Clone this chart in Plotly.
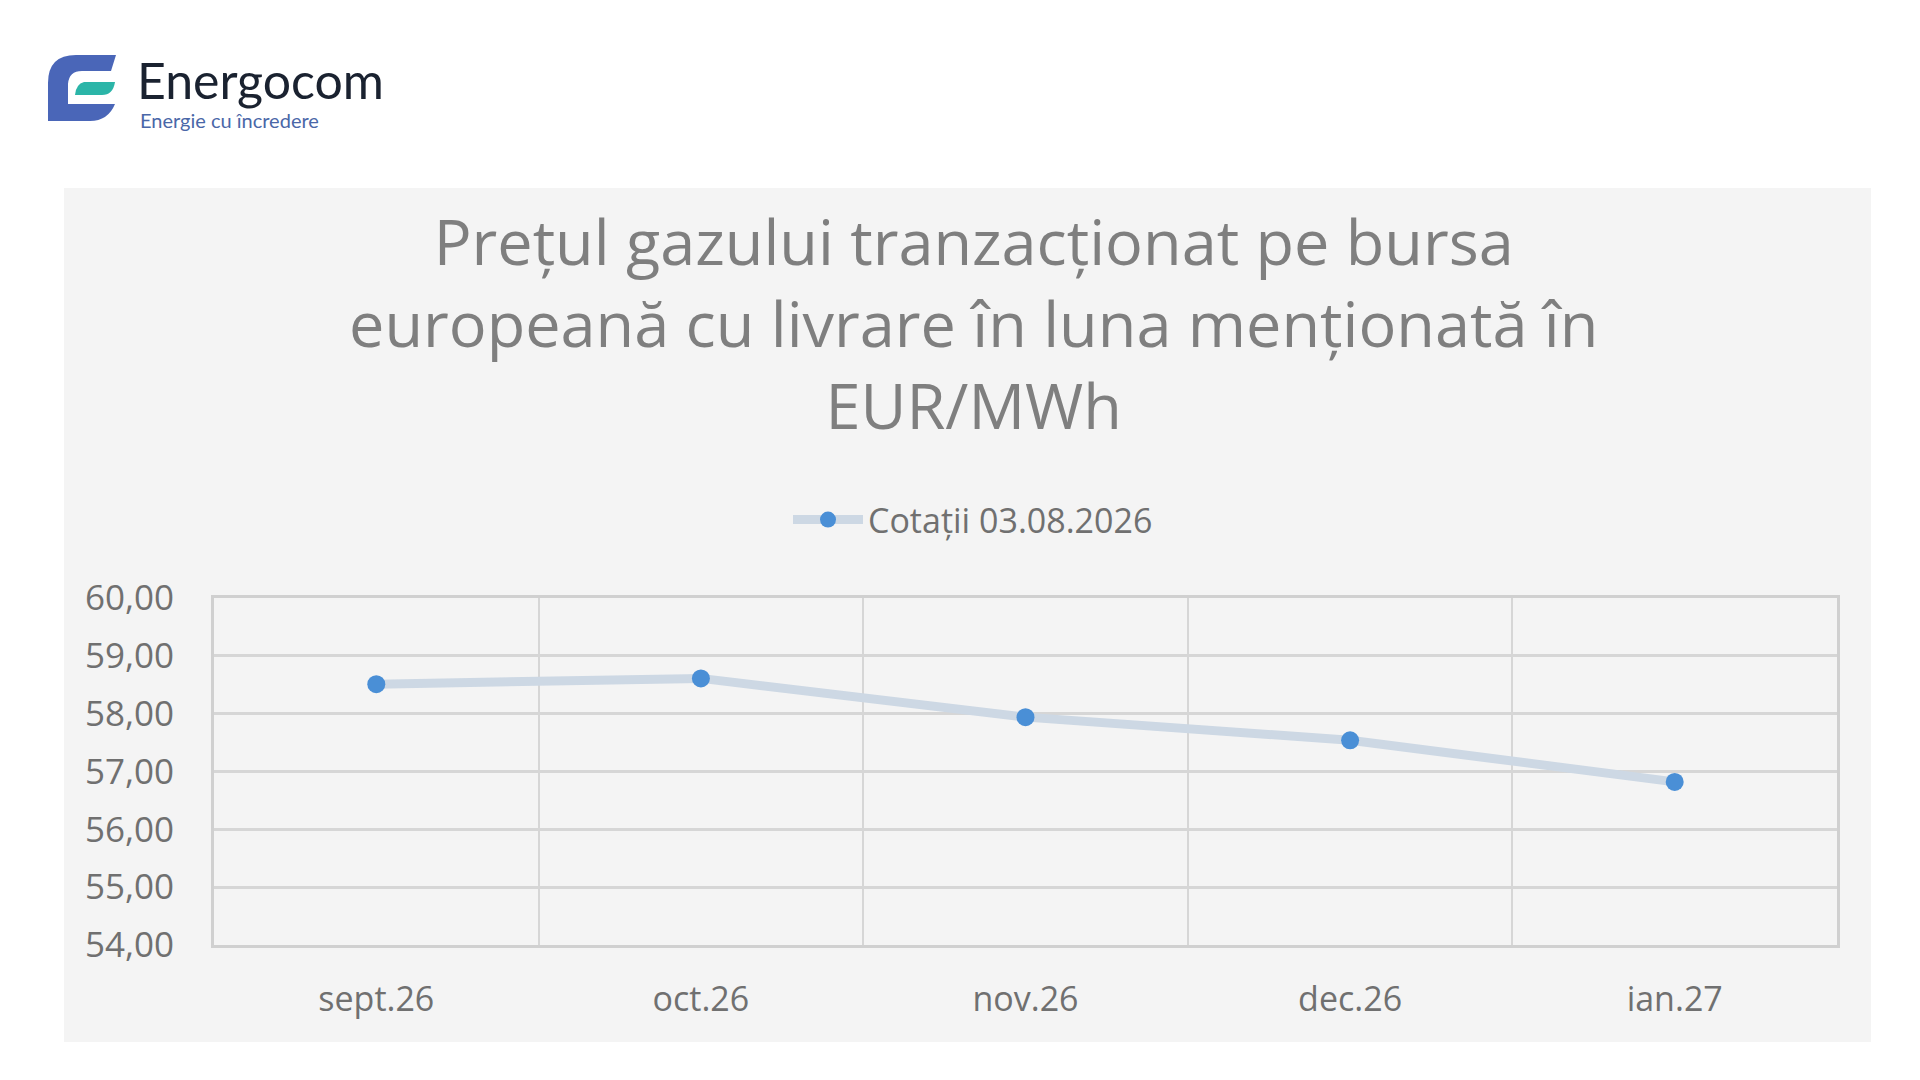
import plotly.graph_objects as go

categories = ["sept.26", "oct.26", "nov.26", "dec.26", "ian.27"]
values = [58.51, 58.61, 57.94, 57.54, 56.82]
series_name = "Cotații 03.08.2026"
y_ticks = [54, 55, 56, 57, 58, 59, 60]
y_ticktext = [f"{v},00" for v in y_ticks]

W, H = 1920, 1080
L, R, T, B = 206, 91, 590, 143
PW, PH = W - L - R, H - T - B

def px(x):
    return (x - L) / PW

def py(y):
    return (H - B - y) / PH

def path(points_str, dx=0, dy=0):
    toks = points_str.split()
    i = 0
    res = []
    while i < len(toks):
        t = toks[i]
        if t in ("M", "L", "Q", "Z"):
            res.append(t)
            i += 1
            continue
        x = float(t) + dx; y = float(toks[i + 1]) + dy; i += 2
        res.append(f"{px(x):.5f},{py(y):.5f}")
    return " ".join(res)

fig = go.Figure()
fig.add_trace(go.Scatter(
    x=categories, y=values, mode="lines+markers", name=series_name,
    line=dict(color="#cdd8e4", width=9),
    marker=dict(color="#4a8fd6", size=18),
))

DX, DY = -10, -10
shapes = [
    dict(type="rect", xref="paper", yref="paper", x0=px(56), x1=px(1863), y0=py(1034), y1=py(180),
         fillcolor="#f4f4f4", line=dict(width=0), layer="below"),
    dict(type="path", xref="paper", yref="paper",
         path=path("M 118 57 L 78 57 Q 50 57 50 85 L 50 123 L 92 123 Q 110 123 117 106 L 70 106 L 70 86 Q 71 73 84 73 L 113 73 Z", DX, DY),
         fillcolor="#4a66b8", line=dict(width=0)),
    dict(type="path", xref="paper", yref="paper",
         path=path("M 86 84 L 117 84 Q 115 97 104 97 L 77 97 Q 78 86 86 84 Z", DX, DY),
         fillcolor="#2bb5a8", line=dict(width=0)),
]

annotations = [
    dict(text="Energocom", xref="paper", yref="paper", x=px(137 + DX), y=py(82 + DY), xanchor="left",
         yanchor="middle", showarrow=False, font=dict(family="Lato", size=50, color="#1a2230")),
    dict(text="Energie cu încredere", xref="paper", yref="paper", x=px(140 + DX), y=py(122 + DY),
         xanchor="left", yanchor="middle", showarrow=False, font=dict(family="Lato", size=20, color="#4a67a8")),
    dict(text="Prețul gazului tranzacționat pe bursa<br>europeană cu livrare în luna menționată în<br>EUR/MWh",
         xref="paper", yref="paper", x=px(965), y=py(314), xanchor="center", yanchor="middle",
         showarrow=False, align="center", font=dict(family="Open Sans", size=63, color="#7f7f7f")),
]

fig.update_layout(
    width=W, height=H,
    margin=dict(l=L, r=R, t=T, b=B),
    paper_bgcolor="white", plot_bgcolor="rgba(0,0,0,0)",
    shapes=shapes, annotations=annotations,
    showlegend=True,
    legend=dict(orientation="h", x=px(965), y=py(512), xanchor="center", yanchor="middle",
                font=dict(family="Open Sans", size=34, color="#707070"), bgcolor="rgba(0,0,0,0)",
                itemwidth=70),
    xaxis=dict(type="category", range=[-0.5, 4.5], tickson="boundaries", showgrid=True, gridcolor="#d6d6d6",
               gridwidth=2, showline=True, linecolor="#d0d0d0", linewidth=3, mirror=True, ticks="",
               tickfont=dict(family="Open Sans", size=34, color="#707070"), ticklabelstandoff=22),
    yaxis=dict(range=[54, 60], tickvals=y_ticks, ticktext=y_ticktext, showgrid=True, gridcolor="#d6d6d6",
               gridwidth=3, showline=True, linecolor="#d0d0d0", linewidth=3, mirror=True, zeroline=False,
               tickfont=dict(family="Open Sans", size=35, color="#707070"), ticklabelstandoff=30),
)

fig.write_html("out.html")
